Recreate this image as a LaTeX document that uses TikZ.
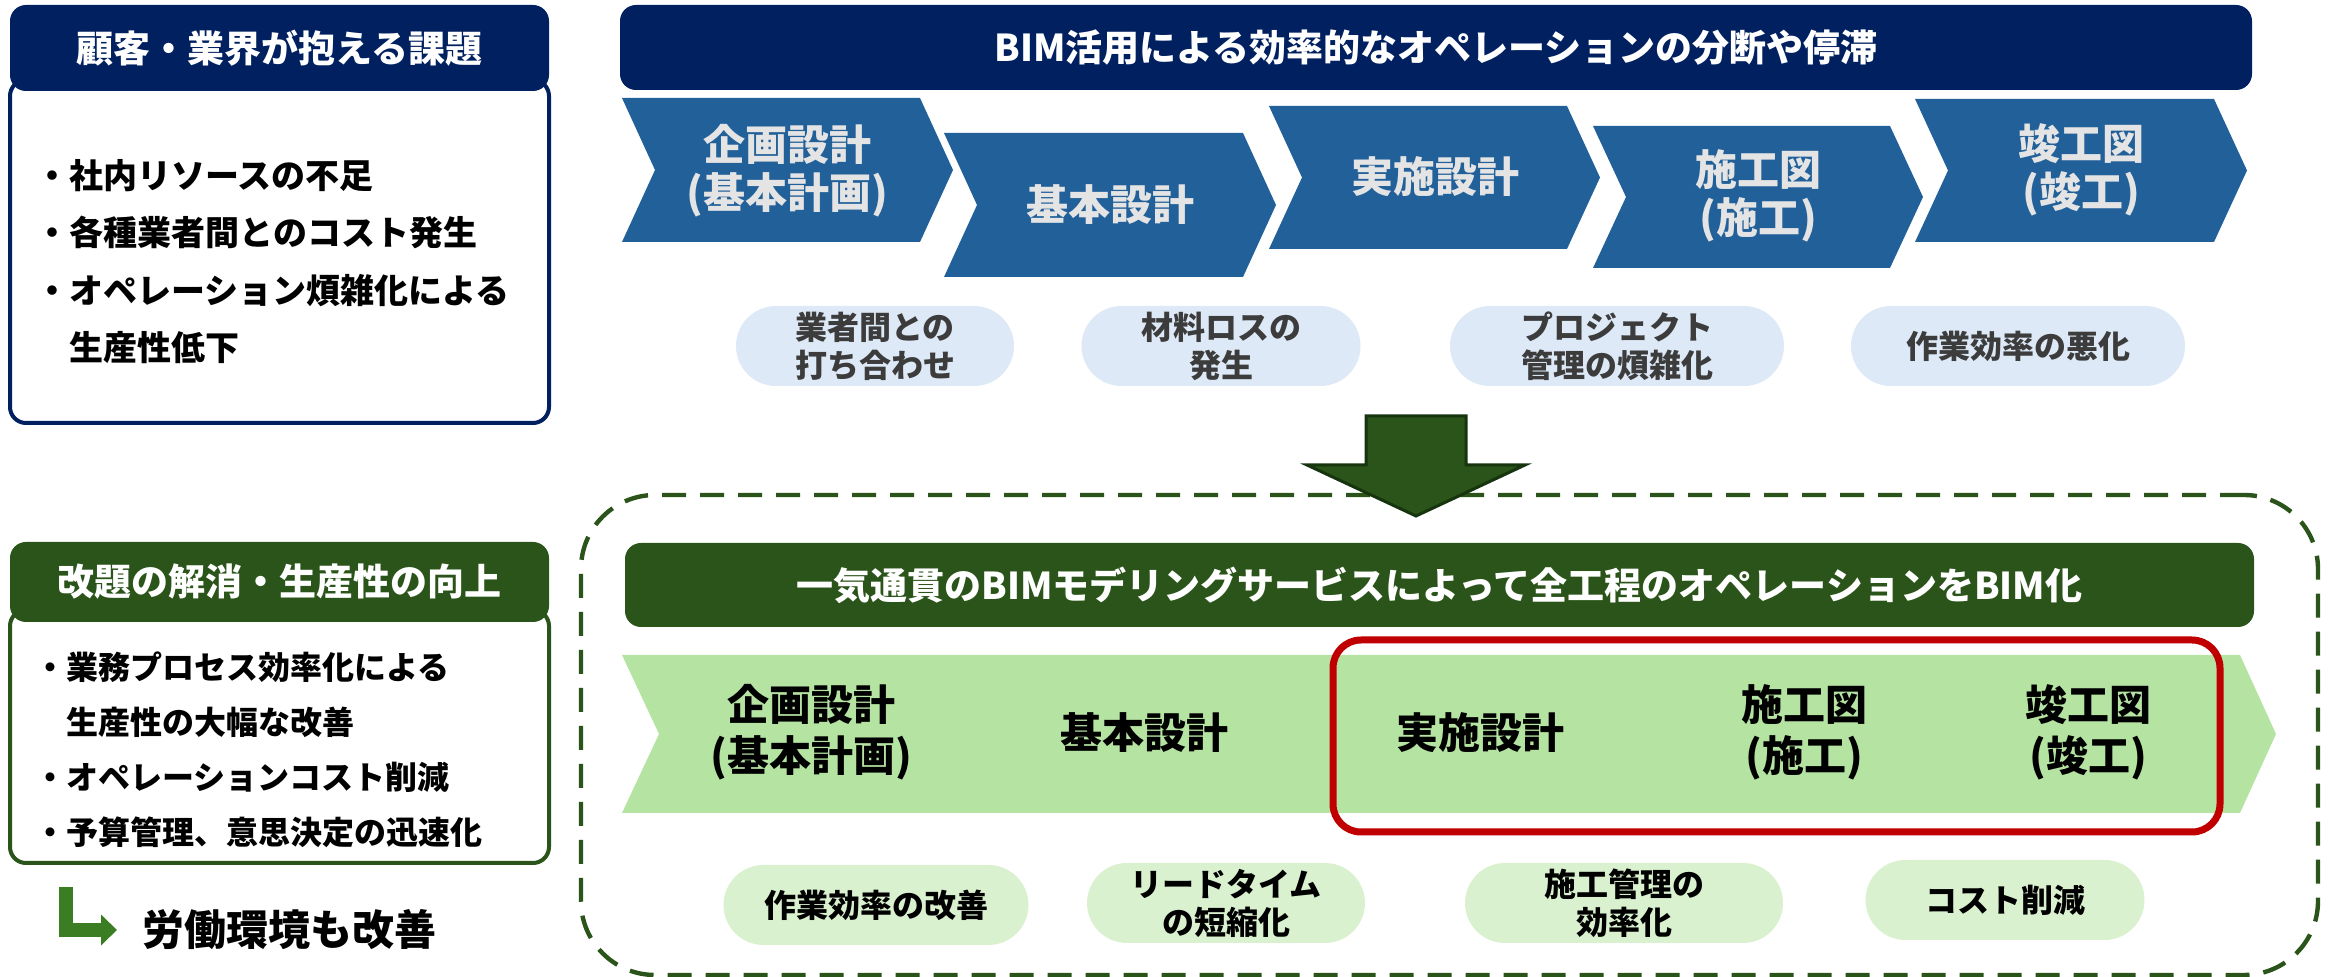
\documentclass[tikz,border=0pt]{standalone}
\usepackage{fontspec}
\setmainfont{Noto Sans CJK JP}
\usetikzlibrary{shapes.misc,arrows.meta}

\definecolor{navy}{RGB}{1,32,96}
\definecolor{chevblue}{RGB}{34,96,154}
\definecolor{chevtext}{RGB}{228,228,228}
\definecolor{chipblue}{RGB}{221,233,246}
\definecolor{chipgray}{RGB}{60,60,60}
\definecolor{darkgreen}{RGB}{42,84,25}
\definecolor{arrowedge}{RGB}{22,52,14}
\definecolor{bandgreen}{RGB}{181,227,162}
\definecolor{chipgreen}{RGB}{218,241,208}
\definecolor{alertred}{RGB}{192,0,0}
\definecolor{hookgreen}{RGB}{59,125,35}

\begin{document}
\begin{tikzpicture}[
    x=0.5pt, y=-0.5pt,
    inner sep=0pt,
	header/.style={
	  rectangle,
	  rounded corners=8pt,
	  text=white,
	  font=\fontsize{18.5pt}{22pt}\selectfont\bfseries
	},
	listbox/.style={
	  rectangle,
	  rounded corners=8pt,
	  line width=2pt,
	  fill=white,
	  minimum width=269.5pt
	},
	listtext/.style={
	  anchor=west,
	  align=left
	},
	stagetext/.style={
	  align=center,
	  text=chevtext,
	  font=\fontsize{21pt}{24pt}\selectfont\bfseries
	},
	bandtext/.style={
	  align=center,
	  font=\fontsize{21pt}{25.5pt}\selectfont\bfseries
	},
	chip/.style={
	  rounded rectangle,
	  minimum height=40pt,
	  align=center,
	  font=\fontsize{16pt}{19pt}\selectfont\bfseries
	},
	upchip/.style={chip, fill=chipblue, text=chipgray},
	downchip/.style={chip, fill=chipgreen}
	]
	\useasboundingbox (0,0) rectangle (2331,977);

	% left column
	\node [listbox, draw=navy, minimum height=171.5pt] at (279.5, 251.5) (issuebox) {};
	\node [header, fill=navy, minimum width=269.5pt, minimum height=43pt] at (279.5, 48) (issuehead) {顧客・業界が抱える課題};
	\node [listtext, font=\fontsize{17pt}{28.8pt}\selectfont\bfseries] at (35, 261.5) (issues)
	  {・社内リソースの不足\\・各種業者間とのコスト発生\\・オペレーション煩雑化による\\\hphantom{・}生産性低下};
	\node [listbox, draw=darkgreen, minimum height=126.5pt] at (279.5, 736.5) (gainbox) {};
	\node [header, fill=darkgreen, minimum width=269.5pt, minimum height=40pt] at (279.5, 582) (gainhead) {改題の解消・生産性の向上};
	\node [listtext, font=\fontsize{16pt}{27.5pt}\selectfont\bfseries] at (34, 749.5) (gains)
	  {・業務プロセス効率化による\\\hphantom{・}生産性の大幅な改善\\・オペレーションコスト削減\\・予算管理、意思決定の迅速化};
	\coordinate (hook) at (66, 887);
	\node [anchor=west, font=\fontsize{21pt}{24pt}\selectfont\bfseries] at (142, 930) (labour) {労働環境も改善};
	\draw [hookgreen, line width=7pt, -{Triangle[width=15pt, length=8pt]}, shorten >=12.5pt] (hook) |- (labour.west);

	% before
	\node [header, fill=navy, minimum width=816pt, minimum height=42.5pt] at (1436, 47.5) (splithead) {BIM活用による効率的なオペレーションの分断や停滞};
	\foreach \l/\t/\r/\b in {622/98/953/242, 944/133/1276/277, 1269/106/1600/249, 1593/126/1923/268, 1915/99/2247/242}
	  \fill [chevblue] (\l,\t) -- (\r-33,\t) -- (\r,{(\t+\b)/2}) -- (\r-33,\b) -- (\l,\b) -- (\l+33,{(\t+\b)/2}) -- cycle;
	\node [stagetext] at (787, 171) (plan) {企画設計\\(基本計画)};
	\node [stagetext] at (1110, 205) (basic) {基本設計};
	\node [stagetext] at (1435, 177) (detail) {実施設計};
	\node [stagetext] at (1758, 196) (constr) {施工図\\(施工)};
	\node [stagetext] at (2081, 170) (asbuilt) {竣工図\\(竣工)};
	\node [upchip, minimum width=139pt] at (875, 346) (meeting) {業者間との\\打ち合わせ};
	\node [upchip, minimum width=139.5pt] at (1221, 346) (loss) {材料ロスの\\発生};
	\node [upchip, minimum width=167pt] at (1617, 346) (tangle) {プロジェクト\\管理の煩雑化};
	\node [upchip, minimum width=167pt] at (2018, 346) (slow) {作業効率の悪化};

	% after
	\node [rectangle, draw=darkgreen, line width=2.2pt, dash pattern=on 12pt off 7pt, rounded corners=37pt,
	  minimum width=868.5pt, minimum height=240pt] at (1449.5, 735) (frame) {};
	\filldraw [fill=darkgreen, draw=arrowedge, line width=1.5pt]
	  (1366,416) -- (1466,416) -- (1466,465) -- (1525,465) -- (1416,516) -- (1307,465) -- (1366,465) -- cycle;
	\node [header, fill=darkgreen, minimum width=814.5pt, minimum height=42pt] at (1439.5, 585) (bimhead) {一気通貫のBIMモデリングサービスによって全工程のオペレーションをBIM化};
	\fill [bandgreen] (622,655) -- (2240,655) -- (2276,734) -- (2240,813) -- (622,813) -- (659,734) -- cycle;
	\node [rectangle, draw=alertred, line width=3.5pt, rounded corners=14pt, minimum width=443.5pt, minimum height=96pt] at (1776.5, 736) (focus) {};
	\node [bandtext] at (811, 732) (plan2) {企画設計\\(基本計画)};
	\node [bandtext] at (1144, 733) (basic2) {基本設計};
	\node [bandtext] at (1480, 733) (detail2) {実施設計};
	\node [bandtext] at (1804, 732) (constr2) {施工図\\(施工)};
	\node [bandtext] at (2088, 732) (asbuilt2) {竣工図\\(竣工)};
	\node [downchip, minimum width=152.5pt] at (876, 905) (better) {作業効率の改善};
	\node [downchip, minimum width=139pt] at (1226, 903) (lead) {リードタイム\\の短縮化};
	\node [downchip, minimum width=159pt] at (1624, 903) (control) {施工管理の\\効率化};
	\node [downchip, minimum width=139.5pt] at (2005, 900) (cost) {コスト削減};
  \end{tikzpicture}
\end{document}
